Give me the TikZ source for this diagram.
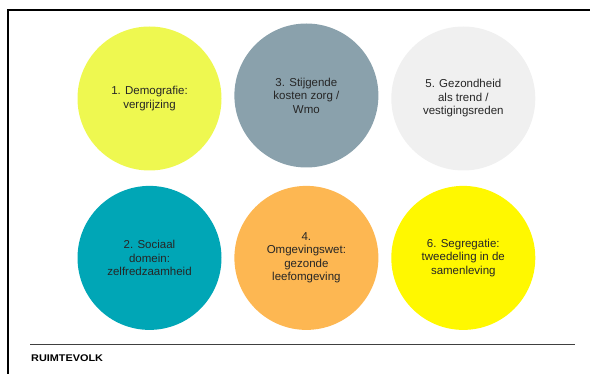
\documentclass[tikz,border=0pt]{standalone}
\usepackage{fontspec}
\setmainfont{Liberation Sans}
\usetikzlibrary{positioning}
\definecolor{demogeel}{HTML}{EEF850}
\definecolor{zorggrijs}{HTML}{8AA1AC}
\definecolor{trendgrijs}{HTML}{F0F0F0}
\definecolor{sociaalblauw}{HTML}{00A6B6}
\definecolor{omgevingoranje}{HTML}{FDB752}
\definecolor{segregatiegeel}{HTML}{FFF800}
\begin{document}
\begin{tikzpicture}[x=1pt,y=1pt,
bol/.style={circle,minimum size=144pt,inner sep=0pt,align=center,text=black!85,
font=\fontsize{11.5}{13.5}\selectfont},
node distance=15pt and 12.5pt]
\useasboundingbox (0,0) rectangle (590,-374);
\draw[line width=2pt] (8,-374) -- (8,-10) -- (590,-10);
\node[bol,fill=demogeel] (demografie) at (149.5,-98.5) {1. Demografie:\\vergrijzing};
\node[bol,fill=zorggrijs,right=of demografie,yshift=3pt] (zorg) {3. Stijgende\\kosten zorg /\\Wmo};
\node[bol,fill=trendgrijs,right=of zorg,yshift=-3pt] (gezondheid) {5. Gezondheid\\als trend /\\vestigingsreden};
\node[bol,fill=sociaalblauw,below=of demografie] (sociaal) {2. Sociaal\\domein:\\zelfredzaamheid};
\node[bol,fill=omgevingoranje,right=of sociaal] (omgeving) {4.\\Omgevingswet:\\gezonde\\leefomgeving};
\node[bol,fill=segregatiegeel,right=of omgeving] (segregatie) {6. Segregatie:\\tweedeling in de\\samenleving};
\draw[black!75,line width=0.8pt] (30,-344) -- (575,-344);
\node[anchor=west,inner sep=0pt,font=\bfseries\fontsize{9.7}{10}\selectfont] (logo) at (31,-358.5) {\scalebox{1.12}[1]{RUIMTEVOLK}};
\end{tikzpicture}
\end{document}
